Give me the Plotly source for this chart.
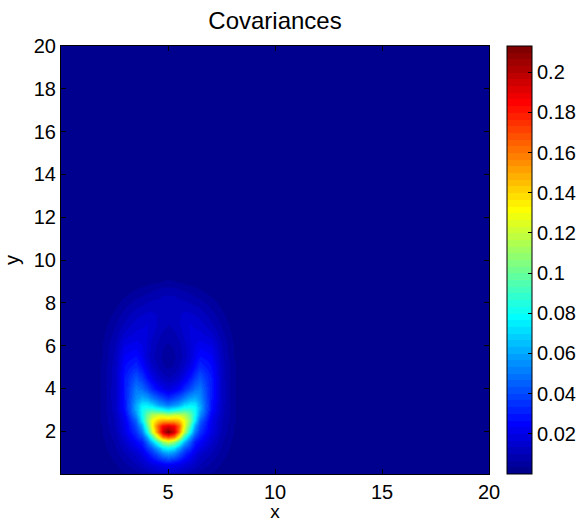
import plotly.graph_objects as go

# ---- data ----
x_grid = [1.5, 2.0, 2.5, 3.0, 3.5, 3.75, 4.0, 4.25, 4.5, 4.75, 5.0,
          5.25, 5.5, 5.75, 6.0, 6.25, 6.5, 7.0, 7.5, 8.0, 8.5]
y_grid = [0.0, 0.5, 1.0, 1.25, 1.5, 1.75, 2.0, 2.25, 2.5, 2.75, 3.0, 3.25, 3.5,
          4.0, 4.5, 5.0, 5.5, 6.0, 6.5, 7.0, 7.5, 8.0, 8.5, 9.0, 9.5, 10.0]

row_y0_00 = [0, 0.0005, 0.0015, 0.003, 0.005, 0.0065, 0.008, 0.0095, 0.011, 0.0115, 0.012, 0.0115, 0.011, 0.0095, 0.008, 0.0065, 0.005, 0.003, 0.0015, 0.0005, 0]
row_y0_50 = [0, 0.001, 0.003, 0.006, 0.010, 0.013, 0.016, 0.019, 0.022, 0.024, 0.025, 0.024, 0.022, 0.019, 0.016, 0.013, 0.010, 0.006, 0.003, 0.001, 0]
row_y1_00 = [0, 0.002, 0.005, 0.010, 0.015, 0.020, 0.027, 0.035, 0.045, 0.055, 0.060, 0.055, 0.045, 0.035, 0.027, 0.020, 0.015, 0.010, 0.005, 0.002, 0]
row_y1_25 = [0, 0.0025, 0.006, 0.012, 0.020, 0.025, 0.035, 0.045, 0.060, 0.075, 0.080, 0.075, 0.060, 0.045, 0.035, 0.025, 0.020, 0.012, 0.006, 0.0025, 0]
row_y1_50 = [0, 0.003, 0.007, 0.015, 0.025, 0.030, 0.045, 0.065, 0.090, 0.110, 0.120, 0.110, 0.090, 0.065, 0.045, 0.030, 0.025, 0.015, 0.007, 0.003, 0]
row_y1_75 = [0, 0.0035, 0.008, 0.017, 0.030, 0.040, 0.060, 0.090, 0.130, 0.160, 0.170, 0.160, 0.130, 0.090, 0.060, 0.040, 0.030, 0.017, 0.008, 0.0035, 0]
row_y2_00 = [0, 0.004, 0.009, 0.020, 0.035, 0.050, 0.080, 0.120, 0.160, 0.195, 0.213, 0.195, 0.160, 0.120, 0.080, 0.050, 0.035, 0.020, 0.009, 0.004, 0]
row_y2_25 = [0, 0.004, 0.010, 0.021, 0.040, 0.060, 0.095, 0.130, 0.165, 0.185, 0.190, 0.185, 0.165, 0.130, 0.095, 0.060, 0.040, 0.021, 0.010, 0.004, 0]
row_y2_50 = [0, 0.005, 0.010, 0.022, 0.045, 0.075, 0.105, 0.130, 0.145, 0.150, 0.150, 0.150, 0.145, 0.130, 0.105, 0.075, 0.045, 0.022, 0.010, 0.005, 0]
row_y2_75 = [0, 0.005, 0.011, 0.025, 0.055, 0.080, 0.100, 0.115, 0.120, 0.120, 0.115, 0.120, 0.120, 0.115, 0.100, 0.080, 0.055, 0.025, 0.011, 0.005, 0]
row_y3_00 = [0, 0.005, 0.012, 0.028, 0.060, 0.080, 0.088, 0.090, 0.085, 0.080, 0.075, 0.080, 0.085, 0.090, 0.088, 0.080, 0.060, 0.028, 0.012, 0.005, 0]
row_y3_25 = [0, 0.005, 0.012, 0.029, 0.060, 0.075, 0.075, 0.070, 0.060, 0.055, 0.050, 0.055, 0.060, 0.070, 0.075, 0.075, 0.060, 0.029, 0.012, 0.005, 0]
row_y3_50 = [0, 0.005, 0.013, 0.030, 0.055, 0.062, 0.060, 0.052, 0.045, 0.040, 0.035, 0.040, 0.045, 0.052, 0.060, 0.062, 0.055, 0.030, 0.013, 0.005, 0]
row_y4_00 = [0, 0.005, 0.013, 0.030, 0.050, 0.047, 0.040, 0.032, 0.025, 0.021, 0.018, 0.021, 0.025, 0.032, 0.040, 0.047, 0.050, 0.030, 0.013, 0.005, 0]
row_y4_50 = [0, 0.005, 0.012, 0.030, 0.042, 0.036, 0.028, 0.021, 0.015, 0.012, 0.010, 0.012, 0.015, 0.021, 0.028, 0.036, 0.042, 0.030, 0.012, 0.005, 0]
row_y5_00 = [0, 0.005, 0.012, 0.027, 0.033, 0.027, 0.020, 0.014, 0.010, 0.007, 0.006, 0.007, 0.010, 0.014, 0.020, 0.027, 0.033, 0.027, 0.012, 0.005, 0]
row_y5_50 = [0, 0.004, 0.011, 0.024, 0.027, 0.022, 0.016, 0.011, 0.008, 0.006, 0.005, 0.006, 0.008, 0.011, 0.016, 0.022, 0.027, 0.024, 0.011, 0.004, 0]
row_y6_00 = [0, 0.004, 0.010, 0.020, 0.022, 0.020, 0.016, 0.012, 0.009, 0.007, 0.006, 0.007, 0.009, 0.012, 0.016, 0.020, 0.022, 0.020, 0.010, 0.004, 0]
row_y6_50 = [0, 0.003, 0.008, 0.015, 0.018, 0.018, 0.017, 0.014, 0.011, 0.009, 0.008, 0.009, 0.011, 0.014, 0.017, 0.018, 0.018, 0.015, 0.008, 0.003, 0]
row_y7_00 = [0, 0.002, 0.006, 0.011, 0.015, 0.016, 0.017, 0.015, 0.013, 0.011, 0.010, 0.011, 0.013, 0.015, 0.017, 0.016, 0.015, 0.011, 0.006, 0.002, 0]
row_y7_50 = [0, 0.001, 0.004, 0.008, 0.012, 0.013, 0.014, 0.014, 0.013, 0.012, 0.012, 0.012, 0.013, 0.014, 0.014, 0.013, 0.012, 0.008, 0.004, 0.001, 0]
row_y8_00 = [0, 0.0005, 0.002, 0.005, 0.008, 0.009, 0.010, 0.011, 0.011, 0.012, 0.012, 0.012, 0.011, 0.011, 0.010, 0.009, 0.008, 0.005, 0.002, 0.0005, 0]
row_y8_50 = [0, 0, 0.001, 0.002, 0.004, 0.005, 0.006, 0.007, 0.008, 0.009, 0.009, 0.009, 0.008, 0.007, 0.006, 0.005, 0.004, 0.002, 0.001, 0, 0]
row_y9_00 = [0, 0, 0, 0.0005, 0.001, 0.0015, 0.002, 0.0025, 0.003, 0.0035, 0.004, 0.0035, 0.003, 0.0025, 0.002, 0.0015, 0.001, 0.0005, 0, 0, 0]
row_y9_50 = [0, 0, 0, 0, 0, 0, 0, 0, 0.0005, 0.001, 0.001, 0.001, 0.0005, 0, 0, 0, 0, 0, 0, 0, 0]
row_y10_0 = [0, 0, 0, 0, 0, 0, 0, 0, 0, 0, 0, 0, 0, 0, 0, 0, 0, 0, 0, 0, 0]

x_ticks = [5, 10, 15, 20]
y_ticks = [2, 4, 6, 8, 10, 12, 14, 16, 18, 20]
cbar_ticks = [0.02, 0.04, 0.06, 0.08, 0.1, 0.12, 0.14, 0.16, 0.18, 0.2]
cbar_labels = ["0.02", "0.04", "0.06", "0.08", "0.1", "0.12", "0.14", "0.16", "0.18", "0.2"]
z_min, z_max = 0.0, 0.2131

z_rows = [row_y0_00, row_y0_50, row_y1_00, row_y1_25, row_y1_50, row_y1_75,
          row_y2_00, row_y2_25, row_y2_50, row_y2_75, row_y3_00, row_y3_25,
          row_y3_50, row_y4_00, row_y4_50, row_y5_00, row_y5_50, row_y6_00,
          row_y6_50, row_y7_00, row_y7_50, row_y8_00, row_y8_50, row_y9_00,
          row_y9_50, row_y10_0]


# ---- MATLAB jet(64) colour map (styling) ----
def jet_colors(m=64):
    n = 16
    u = [k / n for k in range(1, n + 1)] + [1.0] * (n - 1) + [k / n for k in range(n, 0, -1)]

    def pick(k):
        return u[k - 1] if 1 <= k <= len(u) else 0.0

    cols = []
    for i in range(1, m + 1):
        r, g, b = pick(i - 24), pick(i - 8), pick(i + 8)
        cols.append("rgb(%d,%d,%d)" % (round(r * 255), round(g * 255), round(b * 255)))
    return cols


jc = jet_colors(64)
colorscale = []
for i, c in enumerate(jc):
    colorscale.append([i / 64, c])
    colorscale.append([(i + 1) / 64, c])

FONT = "Liberation Sans, Arial, Helvetica, sans-serif"

fig = go.Figure(go.Heatmap(
    x=x_grid, y=y_grid, z=z_rows,
    zmin=z_min, zmax=z_max, zsmooth="best",
    colorscale=colorscale,
    colorbar=dict(
        x=1.042, xanchor="left", xpad=0, ypad=0,
        y=0.5, yanchor="middle", len=1.0, lenmode="fraction",
        thickness=25, outlinewidth=1, outlinecolor="black",
        tickvals=cbar_ticks, ticktext=cbar_labels,
        ticks="inside", ticklen=4, tickcolor="black",
        tickfont=dict(family=FONT, size=20, color="black"),
    ),
    hoverinfo="skip",
))

axis_common = dict(
    showgrid=False, zeroline=False, showline=True, linecolor="black", linewidth=1,
    mirror="allticks", ticks="inside", ticklen=5, tickcolor="black",
    tickfont=dict(family=FONT, size=20, color="black"),
)

fig.update_layout(
    width=580, height=522,
    margin=dict(l=61, r=91, t=46, b=48, autoexpand=False),
    paper_bgcolor="white", plot_bgcolor=jc[0],
    font=dict(family=FONT, color="black"),
    title=dict(text="Covariances", x=275 / 580, xanchor="center",
               y=1 - 21 / 522, yanchor="middle", yref="container",
               font=dict(family=FONT, size=24, color="black")),
    xaxis=dict(range=[0, 20], tickvals=x_ticks,
               title=dict(text="x", font=dict(family=FONT, size=19), standoff=8),
               **axis_common),
    yaxis=dict(range=[0, 20], tickvals=y_ticks,
               title=dict(text="y", font=dict(family=FONT, size=20), standoff=8),
               **axis_common),
)

fig.write_html("out.html", config={"displayModeBar": False},
               post_script="document.body.style.margin='0px';")
